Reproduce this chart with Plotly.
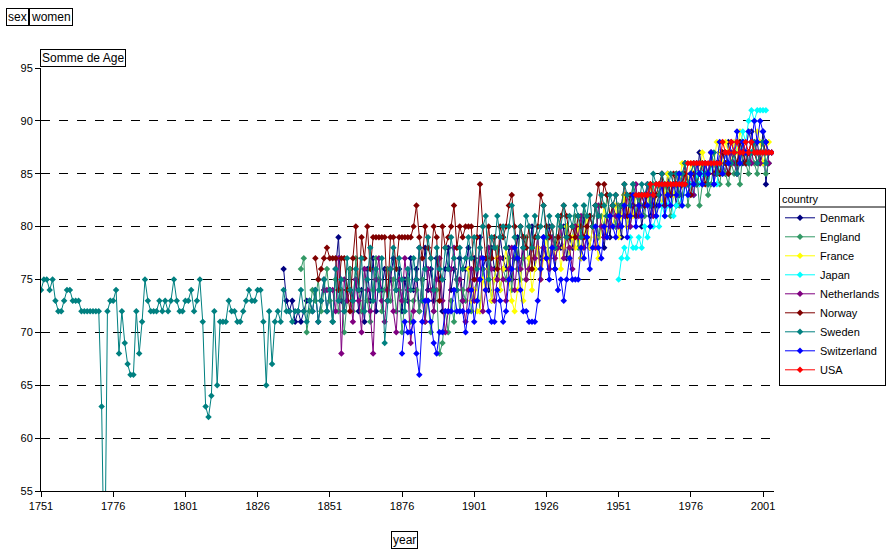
import plotly.graph_objects as go

# ---------------- data ----------------
countries = ["Denmark", "England", "France", "Japan", "Netherlands",
             "Norway", "Sweden", "Switzerland", "USA"]

colors = {"Denmark": "#000080", "England": "#339966", "France": "#FFFF00",
          "Japan": "#00FFFF", "Netherlands": "#800080", "Norway": "#800000",
          "Sweden": "#008080", "Switzerland": "#0000FF", "USA": "#FF0000"}

start_year = {"Denmark": 1835, "England": 1841, "France": 1899, "Japan": 1951,
              "Netherlands": 1849, "Norway": 1846, "Sweden": 1751,
              "Switzerland": 1876, "USA": 1957}

denmark = [76,73,72,73,71,72,71,72,73,73,
           72,74,71,73,75,72,74,71,76,79,
           73,72,74,76,73,75,72,74,71,76,
           73,77,72,75,74,76,73,75,77,74,
           76,72,75,73,77,74,76,72,75,78,
           74,76,73,77,75,72,76,78,74,76,
           75,77,73,76,78,74,77,75,79,76,
           77,74,78,76,75,79,77,76,78,75,
           77,79,76,78,75,77,80,76,78,77,
           79,77,80,78,76,79,78,80,77,79,
           78,80,79,77,81,79,78,80,82,79,
           80,78,81,79,82,80,81,79,83,81,
           80,82,81,83,80,82,84,81,83,82,
           83,84,82,85,83,84,82,85,84,86,
           84,85,86,84,87,85,86,84,87,86,
           85,87,86,85,88,86,87,85,88,86,
           87,86,89,87,88,86,89,84,87,87]

england = [76,77,70,72,74,73,75,72,74,76,
           73,71,75,72,74,70,73,76,72,77,
           74,72,76,73,71,74,77,75,72,74,
           76,73,75,72,74,70,73,75,71,73,
           74,72,75,71,73,70,72,74,68,69,
           72,70,73,71,75,72,74,73,76,72,
           74,75,72,76,74,77,73,75,78,74,
           76,75,77,74,78,76,75,77,79,76,
           78,77,79,76,78,80,77,79,78,81,
           79,78,80,77,79,81,78,80,82,79,
           81,80,82,79,81,80,83,81,82,80,
           82,81,83,80,82,84,81,83,82,81,
           83,82,84,81,83,82,84,83,81,83,
           84,82,83,85,82,84,83,85,82,84,
           85,83,84,86,85,84,86,85,84,86,
           85,86,84,87,86,85,87,86,85,87,
           86,85,86]

france = [76,73,74,72,72,75,74,76,73,75,
          77,74,76,78,75,73,72,74,76,73,
          75,77,74,76,78,75,77,79,76,78,
          77,79,76,78,80,77,79,78,80,77,
          79,81,78,80,79,77,80,82,79,81,
          80,82,79,81,83,80,82,81,83,82,
          81,83,82,84,81,83,84,82,83,85,
          84,83,85,84,86,85,84,86,85,86,
          85,87,86,85,87,86,88,87,86,88,
          87,86,88,87,89,88,87,89,88,87,
          89,88,86,87,88]

japan = [75,77,78,77,79,78,78,79,78,80,
         79,80,80,81,80,82,81,82,83,81,
         82,83,82,84,83,84,83,85,84,85,
         85,84,86,84,84,86,87,86,85,87,
         86,88,87,89,88,90,91,90,91,91,
         91,91]

netherlands = [74,74,74,74,72,77,68,75,73,74,
               71,75,73,70,76,74,72,68,75,77,
               73,71,74,76,72,70,75,73,77,74,
               69,72,75,78,73,71,76,74,72,75,
               77,73,70,72,76,78,74,75,73,71,
               74,76,73,75,77,72,74,78,76,73,
               75,77,75,73,76,78,74,77,76,79,
               75,76,78,77,79,75,78,77,76,79,
               77,78,80,77,79,78,76,80,79,81,
               78,79,81,80,78,82,80,79,81,80,
               82,81,80,82,81,83,80,82,84,81,
               83,82,84,83,81,84,83,85,82,84,
               83,84,85,83,84,86,84,85,83,86,
               85,84,86,85,87,84,86,85,87,86,
               85,87,86,85,87,88,86,87,86,88,
               87,86,87,88,86]

norway = [77,75,76,77,78,77,77,77,74,77,
          77,74,72,77,80,74,79,77,80,76,
          79,79,79,79,79,73,79,79,76,79,
          79,79,79,79,80,82,79,77,80,78,
          77,80,79,73,80,78,79,80,82,78,
          80,79,80,80,80,75,79,84,80,77,
          80,77,79,76,80,79,80,82,83,80,
          77,80,79,78,80,76,79,80,83,82,
          80,79,80,78,79,81,82,81,79,80,
          79,81,80,79,80,81,80,82,84,82,
          84,83,81,82,83,81,82,84,81,83,
          82,81,82,83,82,83,84,82,83,84,
          85,82,84,83,85,84,83,84,85,84,
          83,85,84,85,86,84,85,86,85,86,
          85,87,86,85,86,87,86,88,87,86,
          87,88,87,86,87,88,87,87]

sweden = [74,75,75,74,75,73,72,72,73,74,
          74,73,73,73,72,72,72,72,72,72,
          72,63,45,72,73,73,74,68,72,69,
          67,66,66,72,68,71,75,73,72,72,
          72,73,72,73,72,73,75,73,72,72,
          73,73,74,72,73,75,71,63,62,64,
          72,65,71,71,71,73,72,72,71,71,
          72,73,74,73,73,74,74,71,65,72,
          67,71,72,71,74,72,72,71,72,
          72,74,72,71,73,72,74,71,73,75,
          72,74,71,76,73,75,72,77,74,73,
          76,74,77,72,75,78,73,76,74,77,
          69,73,76,78,74,77,75,72,76,74,
          77,75,78,73,76,79,77,74,78,76,
          75,78,76,79,77,74,78,76,77,79,
          77,79,76,78,80,81,75,79,78,81,
          79,80,78,80,82,79,77,80,78,81,
          80,78,81,79,80,82,79,81,80,78,
          81,80,82,79,81,80,82,81,79,82,
          81,83,80,82,81,83,82,81,83,82,
          83,81,82,84,83,82,84,83,82,84,
          83,84,82,85,84,83,85,84,83,85,
          84,85,83,85,86,84,85,86,84,85,
          86,85,84,86,87,85,86,85,87,86,
          86,87,85,86,88,87,86,87,88,86,
          87,88,86,87]

switzerland = [68,71,70,70,71,68,66,71,73,73,
               71,69,68,70,70,72,72,72,74,72,
               72,72,70,72,74,71,73,75,77,74,
               72,71,71,74,73,71,72,75,76,78,
               77,74,72,72,71,71,71,73,76,79,
               77,75,78,76,74,75,73,75,77,75,
               75,75,78,77,79,76,78,80,78,77,
               80,79,81,80,79,81,80,82,79,81,
               83,80,82,81,83,82,80,83,81,82,
               84,81,83,82,84,83,85,82,84,83,
               85,84,86,85,84,86,85,87,84,86,
               88,85,87,86,88,87,89,86,88,87,
               89,88,90,88,90,89,88,87,87]

usa = [83,83,83,83,83,84,83,84,84,84,
       84,84,84,84,84,84,84,84,86,86,
       86,86,86,86,86,86,86,86,86,86,
       88,87,87,88,87,88,87,87,88,87,
       88,87,87,87,87,87,87,87]

values = {"Denmark": denmark, "England": england, "France": france,
          "Japan": japan, "Netherlands": netherlands, "Norway": norway,
          "Sweden": sweden, "Switzerland": switzerland, "USA": usa}

tick_years = [1751, 1776, 1801, 1826, 1851, 1876, 1901, 1926, 1951, 1976, 2001]
y_ticks = [55, 60, 65, 70, 75, 80, 85, 90, 95]

# ---------------- figure ----------------
FONT = "Liberation Sans, Arial, sans-serif"
fig = go.Figure()
for c in countries:
    v = values[c]
    yrs = list(range(start_year[c], start_year[c] + len(v)))
    fig.add_trace(go.Scatter(
        x=yrs, y=v, name=c, mode="lines+markers",
        line=dict(color=colors[c], width=1),
        marker=dict(color=colors[c], size=5, symbol="diamond"),
        cliponaxis=True,
    ))

L, R, T, B = 41, 774, 68, 491
W, H = 890, 556
pw, ph = R - L, B - T

def px(x):
    return (x - L) / pw

def py(y):
    return (B - y) / ph

fig.update_layout(
    width=W, height=H,
    margin=dict(l=L, r=W - R, t=T, b=H - B, pad=0, autoexpand=False),
    paper_bgcolor="white", plot_bgcolor="white",
    font=dict(family=FONT, size=11, color="black"),
    showlegend=True,
    legend=dict(
        x=px(779), y=py(188), xanchor="left", yanchor="top",
        bordercolor="black", borderwidth=1, bgcolor="rgba(0,0,0,0)",
        font=dict(family=FONT, size=11, color="black"),
        title=dict(text="country", font=dict(family=FONT, size=11)),
        itemwidth=30, tracegroupgap=0,
    ),
    xaxis=dict(
        range=[1751, 2004.8], tickmode="array", tickvals=tick_years,
        ticktext=[str(t) for t in tick_years],
        showgrid=False, zeroline=False,
        showline=True, linecolor="black", linewidth=1,
        ticks="outside", ticklen=5, tickcolor="black",
        tickfont=dict(family=FONT, size=11),
    ),
    yaxis=dict(
        range=[55, 95], tickmode="array", tickvals=y_ticks,
        showgrid=True, gridcolor="black", griddash="dash", gridwidth=1,
        zeroline=False,
        showline=True, linecolor="black", linewidth=1,
        ticks="outside", ticklen=5, tickcolor="black",
        tickfont=dict(family=FONT, size=11),
    ),
)

# separator line under the legend title
fig.add_shape(type="line", xref="paper", yref="paper",
              x0=px(779), x1=px(885), y0=py(207), y1=py(207),
              line=dict(color="black", width=1))

def box(text, x, y, xanchor="left", yanchor="top"):
    fig.add_annotation(
        text=text, xref="paper", yref="paper", x=x, y=y,
        xanchor=xanchor, yanchor=yanchor, showarrow=False,
        bordercolor="black", borderwidth=1, borderpad=1, bgcolor="white",
        font=dict(family=FONT, size=12, color="black"),
    )

box("sex", px(6), py(8))
box("women", px(29), py(8))
box("Somme de Age", px(40), py(49))
box("year", px(391), py(531))

fig.write_html("out.html",
               config={"displayModeBar": False},
               post_script="document.body.style.margin='0px';document.body.style.overflow='hidden';")
